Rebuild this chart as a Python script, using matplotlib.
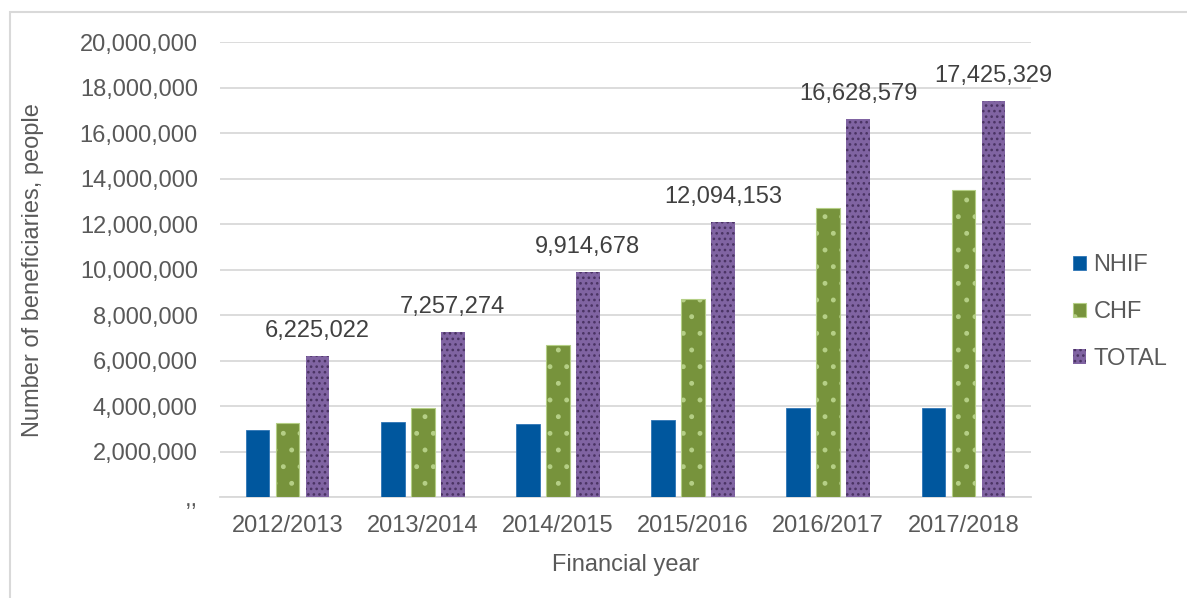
import matplotlib
matplotlib.use("Agg")
import matplotlib.pyplot as plt
import numpy as np
from matplotlib.patches import Rectangle

plt.rcParams['font.family'] = ['Liberation Sans', 'DejaVu Sans']
plt.rcParams['hatch.linewidth'] = 1.1

years = ["2012/2013", "2013/2014", "2014/2015", "2015/2016", "2016/2017", "2017/2018"]
nhif = [2970000, 3330000, 3240000, 3380000, 3920000, 3920000]
chf = [3255022, 3927274, 6674678, 8714153, 12708579, 13505329]
total = [6225022, 7257274, 9914678, 12094153, 16628579, 17425329]
series_names = ["NHIF", "CHF", "TOTAL"]
yticks = [0, 2000000, 4000000, 6000000, 8000000, 10000000, 12000000, 14000000, 16000000, 18000000, 20000000]
ytick_labels = [",,", "2,000,000", "4,000,000", "6,000,000", "8,000,000", "10,000,000",
                "12,000,000", "14,000,000", "16,000,000", "18,000,000", "20,000,000"]

fig = plt.figure(figsize=(11.87, 5.98), dpi=100)
# outer frame
fig.patches.append(Rectangle((10/1187, -0.1), 1.2, 1 - 12/598 + 0.1, transform=fig.transFigure,
                             fill=False, edgecolor="#D9D9D9", linewidth=1.5))
ax = fig.add_axes([220/1187, 1 - 497.3/598, 811/1187, (497.3 - 42.3)/598])

x = np.arange(len(years))
w = 0.174
step = 0.222
ax.bar(x - step, nhif, w, color="#00579E", edgecolor="#2E75B6", linewidth=0.6,
       label=series_names[0], zorder=3)
bc = ax.bar(x, chf, w, color="#77933C", edgecolor="#B5CF86", linewidth=0.8, hatch='.',
            label=series_names[1], zorder=3)
bt = ax.bar(x + step, total, w, color="#8064A2", edgecolor="#45305E", linewidth=0.0, hatch='...',
            label=series_names[2], zorder=3)
for b in bc:
    b.set_edgecolor("#B5CF86")
for b in bt:
    b.set_edgecolor("#4A3363")

for xi, v in zip(x, total):
    ax.annotate(f"{v:,}", (xi + step, v), xytext=(0, 10), textcoords="offset points",
                ha="center", va="bottom", fontsize=17, color="#404040")

ax.set_xlim(-0.5, len(years) - 0.5)
ax.set_ylim(0, 20000000)
ax.set_yticks(yticks)
ax.set_yticklabels(ytick_labels)
ax.set_xticks(x)
ax.set_xticklabels(years)
ax.tick_params(axis="both", length=0, labelsize=17, labelcolor="#595959")
ax.tick_params(axis="y", pad=16)
ax.tick_params(axis="x", pad=13)
ax.grid(axis="y", color="#D9D9D9", linewidth=1.3, zorder=0)
for s in ["top", "right", "left"]:
    ax.spines[s].set_visible(False)
ax.spines["bottom"].set_color("#D9D9D9")
ax.spines["bottom"].set_linewidth(1.3)

ax.set_xlabel("Financial year", fontsize=17, color="#595959", labelpad=12)
ax.set_ylabel("Number of beneficiaries, people", fontsize=17, color="#595959", labelpad=26)

leg = fig.legend(loc="center left", bbox_to_anchor=(1052/1187, 1 - 312/598), frameon=False,
                 fontsize=17, labelcolor="#595959", handlelength=0.55, handleheight=0.55,
                 handletextpad=0.3, labelspacing=1.05)

fig.savefig("out.png", dpi=100)
